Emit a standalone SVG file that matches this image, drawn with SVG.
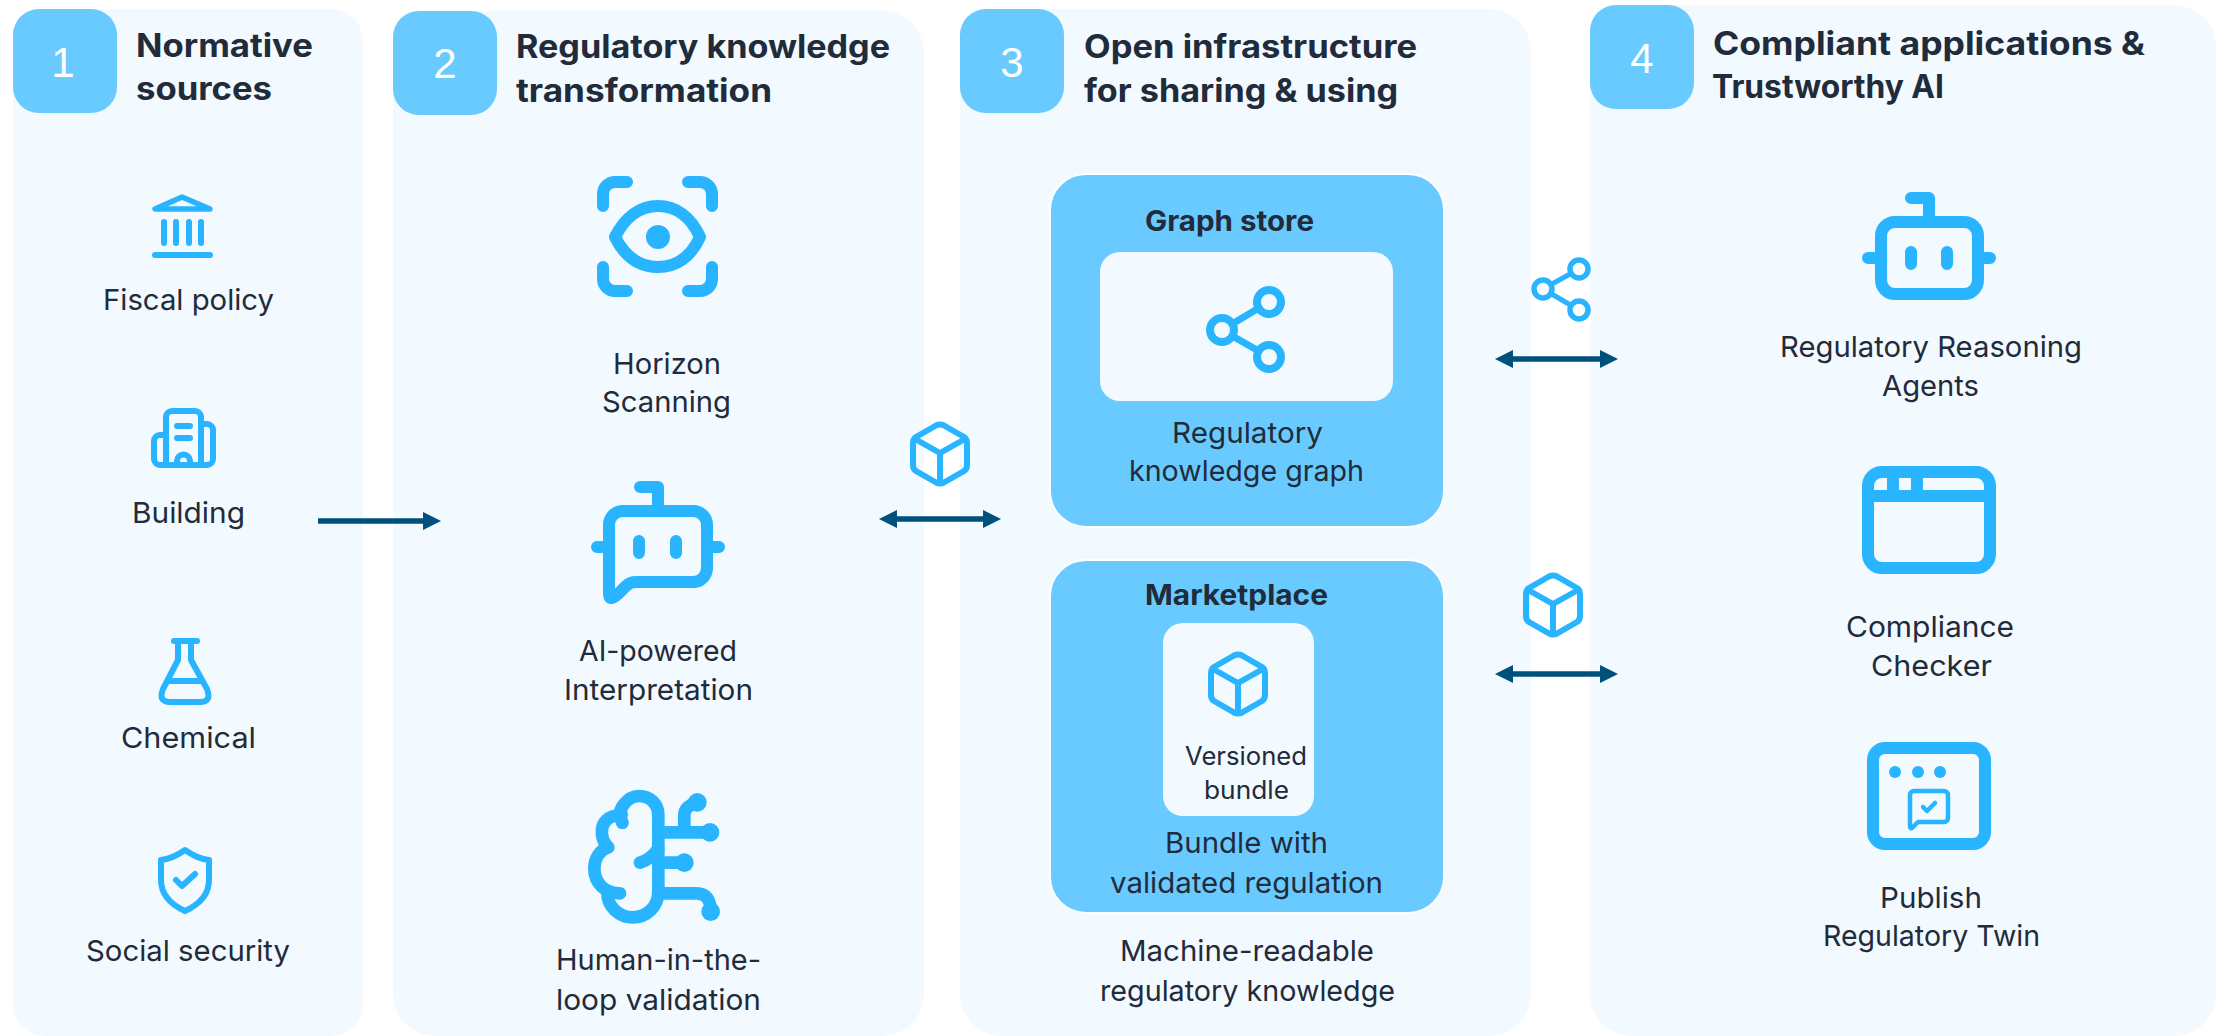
<svg xmlns="http://www.w3.org/2000/svg" width="2226" height="1036" viewBox="0 0 2226 1036">
<style>
.panel{fill:#f2f9ff}
.badge{fill:#69caff}
.num{font-family:"Liberation Sans",Arial,sans-serif;font-size:42px;fill:#fff;text-anchor:middle}
text{font-family:Inter,"Liberation Sans",sans-serif;fill:#212b3a}
.h{font-size:32px;font-weight:700}
.t{font-size:29px;font-weight:400}
.s{font-size:25px;font-weight:400}
.b{font-size:28px;font-weight:700}
.ic{fill:none;stroke:#29b4ff;stroke-width:12;stroke-linecap:round;stroke-linejoin:round}
.ic6{fill:none;stroke:#29b4ff;stroke-width:6;stroke-linecap:round;stroke-linejoin:round}
.dot{fill:#29b4ff}
.box{fill:#69caff;stroke:#fff;stroke-width:2}
.in{fill:#f2f9ff}
.arrow{stroke:#00507c;stroke-width:5.5;fill:none}
</style>
<defs>
<marker id="ah" markerUnits="userSpaceOnUse" markerWidth="18" markerHeight="18" refX="0" refY="9" orient="auto-start-reverse"><path d="M0 0L18 9L0 18Z" fill="#00507c"/></marker>
<g id="cube"><path class="ic6" d="M-4-28.5Q0-30.5 4-28.5L24-17Q27-15 27-11V11Q27 15 24 17L4 28.5Q0 30.5-4 28.5L-24 17Q-27 15-27 11V-11Q-27-15-24-17Z M-25-15L0-1L25-15 M0-1V29"/></g>
</defs>

<g id="panel-1">
<rect class="panel" x="13" y="9" width="350" height="1027" rx="32"/>
<rect class="badge" x="13" y="9" width="104" height="104" rx="26"/>
<text class="num" x="63" y="77">1</text>
<text class="h" x="136" y="57" textLength="177" lengthAdjust="spacingAndGlyphs">Normative</text>
<text class="h" x="136" y="100" textLength="136" lengthAdjust="spacingAndGlyphs">sources</text>
</g>
<g id="node-fiscal">
<path class="ic6" d="M182 197L155 209H210Z" style="stroke-width:5.5"/>
<path class="ic6" d="M164 222V243M176 222V243M189 222V243M201 222V243M155 255H210"/>
<text class="t" x="103" y="310" textLength="171" lengthAdjust="spacingAndGlyphs">Fiscal policy</text>
</g>
<g id="node-building">
<path class="ic6" d="M166 465V417a6 6 0 0 1 6-6H195a6 6 0 0 1 6 6V465M166 435H160a6 6 0 0 0-6 6V459a6 6 0 0 0 6 6H207a6 6 0 0 0 6-6V430a6 6 0 0 0-6-6H201M177 426H190M177 438H190M177 465V461a6.500 6.500 0 0 1 13 0V465"/>
<text class="t" x="132" y="523" textLength="113" lengthAdjust="spacingAndGlyphs">Building</text>
</g>
<g id="node-chemical">
<path class="ic6" d="M174 641H197M178 641V660L163 689Q158 702 170 702H200Q212 702 207 689L191 660V641M168 681H202"/>
<text class="t" x="121" y="748" textLength="135" lengthAdjust="spacingAndGlyphs">Chemical</text>
</g>
<g id="node-social">
<path class="ic6" d="M185 850Q172 859 161 860V880Q161 900 185 911Q209 900 209 880V860Q198 859 185 850Z M176 880L182 886L195 874"/>
<text class="t" x="86" y="961" textLength="204" lengthAdjust="spacingAndGlyphs">Social security</text>
</g>

<g id="panel-2">
<rect class="panel" x="393" y="11" width="531" height="1025" rx="42"/>
<rect class="badge" x="393" y="11" width="104" height="104" rx="26"/>
<text class="num" x="445" y="78">2</text>
<text class="h" x="516" y="58" textLength="374" lengthAdjust="spacingAndGlyphs">Regulatory knowledge</text>
<text class="h" x="516" y="102" textLength="256" lengthAdjust="spacingAndGlyphs">transformation</text>
</g>
<g id="node-horizon">
<path class="ic" d="M603 206V194a12 12 0 0 1 12-12H627M688 182H700a12 12 0 0 1 12 12V206M603 267V279a12 12 0 0 0 12 12H627M688 291H700a12 12 0 0 0 12-12V267"/>
<path class="ic" d="M615 237C625 217 640 206 658 206C676 206 691 217 700 237C691 257 676 267 658 267C640 267 625 257 615 237Z"/>
<circle class="dot" cx="658" cy="237" r="12"/>
<text class="t" x="613" y="374" textLength="108" lengthAdjust="spacingAndGlyphs">Horizon</text>
<text class="t" x="602" y="412" textLength="129" lengthAdjust="spacingAndGlyphs">Scanning</text>
</g>
<g id="node-ai">
<path class="ic" d="M640 487H658V505M597 547H603M713 547H719M639 541V553M676 541V553"/>
<path class="ic" d="M609 525a14 14 0 0 1 14-14H693a14 14 0 0 1 14 14V568a14 14 0 0 1-14 14H636Q630 582 626 586L618 594Q609 602 609 594Z"/>
<text class="t" x="579" y="661" textLength="158" lengthAdjust="spacingAndGlyphs">AI-powered</text>
<text class="t" x="564" y="700" textLength="189" lengthAdjust="spacingAndGlyphs">Interpretation</text>
</g>
<g id="node-human">
<g transform="translate(560 760) scale(.3333)">
<path class="ic" style="stroke-width:38" d="M187 188Q172 160 190 135Q210 108 237 108C270 108 295 132 295 165V395C295 440 260 472 218 472C178 472 142 440 142 400"/>
<path class="ic" style="stroke-width:38" d="M180 400C135 400 103 370 103 325C103 295 120 270 145 262C122 240 118 200 140 180Q155 165 185 165"/>
<path class="ic" style="stroke-width:38" d="M240 308Q275 298 295 265M295 217H450M373 217V165Q373 140 412 127M295 308H373M295 400H410Q452 400 452 455"/>
<circle class="dot" cx="187" cy="188" r="19"/><circle class="dot" cx="450" cy="217" r="28"/><circle class="dot" cx="412" cy="127" r="28"/><circle class="dot" cx="373" cy="308" r="28"/><circle class="dot" cx="452" cy="455" r="28"/>
</g>
<text class="t" x="556" y="970" textLength="205" lengthAdjust="spacingAndGlyphs">Human-in-the-</text>
<text class="t" x="556" y="1010" textLength="205" lengthAdjust="spacingAndGlyphs">loop validation</text>
</g>

<g id="panel-3">
<rect class="panel" x="960" y="9" width="571" height="1027" rx="42"/>
<rect class="badge" x="960" y="9" width="104" height="104" rx="26"/>
<text class="num" x="1012" y="77">3</text>
<text class="h" x="1084" y="58" textLength="333" lengthAdjust="spacingAndGlyphs">Open infrastructure</text>
<text class="h" x="1084" y="102" textLength="314" lengthAdjust="spacingAndGlyphs">for sharing &amp; using</text>
</g>
<g id="node-graph-store">
<rect class="box" x="1050" y="174" width="394" height="353" rx="36"/>
<text class="b" x="1145" y="231" textLength="169" lengthAdjust="spacingAndGlyphs">Graph store</text>
<rect class="in" x="1100" y="252" width="293" height="149" rx="20"/>
<path fill="none" stroke="#29b4ff" stroke-width="7" d="M1222 330L1269 302M1222 330L1269 357"/>
<circle cx="1269" cy="302" r="12" fill="#f2f9ff" stroke="#29b4ff" stroke-width="8"/>
<circle cx="1222" cy="330" r="12" fill="#f2f9ff" stroke="#29b4ff" stroke-width="8"/>
<circle cx="1269" cy="357" r="12" fill="#f2f9ff" stroke="#29b4ff" stroke-width="8"/>
<text class="t" x="1172" y="443" textLength="151" lengthAdjust="spacingAndGlyphs">Regulatory</text>
<text class="t" x="1129" y="481" textLength="235" lengthAdjust="spacingAndGlyphs">knowledge graph</text>
</g>
<g id="node-marketplace">
<rect class="box" x="1050" y="560" width="394" height="353" rx="36"/>
<text class="b" x="1145" y="605" textLength="183" lengthAdjust="spacingAndGlyphs">Marketplace</text>
<rect class="in" x="1163" y="623" width="151" height="193" rx="20"/>
<use href="#cube" x="1238" y="684"/>
<text class="s" x="1185" y="765" textLength="122" lengthAdjust="spacingAndGlyphs">Versioned</text>
<text class="s" x="1204" y="799" textLength="85" lengthAdjust="spacingAndGlyphs">bundle</text>
<text class="t" x="1165" y="853" textLength="163" lengthAdjust="spacingAndGlyphs">Bundle with</text>
<text class="t" x="1110" y="893" textLength="273" lengthAdjust="spacingAndGlyphs">validated regulation</text>
</g>
<g id="node-machine">
<text class="t" x="1120" y="961" textLength="254" lengthAdjust="spacingAndGlyphs">Machine-readable</text>
<text class="t" x="1100" y="1001" textLength="295" lengthAdjust="spacingAndGlyphs">regulatory knowledge</text>
</g>

<g id="panel-4">
<rect class="panel" x="1590" y="5" width="626" height="1031" rx="42"/>
<rect class="badge" x="1590" y="5" width="104" height="104" rx="26"/>
<text class="num" x="1642" y="73">4</text>
<text class="h" x="1713" y="55" textLength="432" lengthAdjust="spacingAndGlyphs">Compliant applications &amp;</text>
<text class="h" x="1712" y="98" textLength="232" lengthAdjust="spacingAndGlyphs">Trustworthy AI</text>
</g>
<g id="node-agents">
<path class="ic" d="M1911 198H1929V216M1868 258H1875M1984 258H1990M1911 252V264M1947 252V264"/>
<rect class="ic" x="1881" y="222" width="97" height="72" rx="14"/>
<text class="t" x="1780" y="357" textLength="302" lengthAdjust="spacingAndGlyphs">Regulatory Reasoning</text>
<text class="t" x="1882" y="396" textLength="97" lengthAdjust="spacingAndGlyphs">Agents</text>
</g>
<g id="node-checker">
<rect class="ic" x="1868" y="472" width="122" height="96" rx="14"/>
<path class="ic" style="stroke-linecap:butt" d="M1868 496H1990M1893 472V496M1917 472V496"/>
<text class="t" x="1846" y="637" textLength="168" lengthAdjust="spacingAndGlyphs">Compliance</text>
<text class="t" x="1871" y="676" textLength="121" lengthAdjust="spacingAndGlyphs">Checker</text>
</g>
<g id="node-publish">
<rect class="ic" x="1873" y="748" width="112" height="96" rx="12"/>
<circle class="dot" cx="1895" cy="772" r="6"/><circle class="dot" cx="1918" cy="772" r="6"/><circle class="dot" cx="1940" cy="772" r="6"/>
<path class="ic" style="stroke-width:4.500" d="M1910 795a4 4 0 0 1 4-4H1944a4 4 0 0 1 4 4V818a4 4 0 0 1-4 4H1918L1912 828Q1910 829 1910 826Z"/>
<path class="ic" style="stroke-width:4.500" d="M1923 807L1927 811L1935 803"/>
<text class="t" x="1880" y="908" textLength="102" lengthAdjust="spacingAndGlyphs">Publish</text>
<text class="t" x="1823" y="946" textLength="217" lengthAdjust="spacingAndGlyphs">Regulatory Twin</text>
</g>

<g id="connectors">
<path class="arrow" d="M318 521H423" marker-end="url(#ah)"/>
<path class="arrow" d="M897 519H983" marker-start="url(#ah)" marker-end="url(#ah)"/>
<path class="arrow" d="M1513 359H1600" marker-start="url(#ah)" marker-end="url(#ah)"/>
<path class="arrow" d="M1513 674H1600" marker-start="url(#ah)" marker-end="url(#ah)"/>
</g>
<g id="connector-icons">
<use href="#cube" x="940" y="454"/>
<use href="#cube" x="1553" y="605"/>
<path fill="none" stroke="#29b4ff" stroke-width="5" d="M1543 289L1579 269M1543 289L1579 310"/>
<circle cx="1579" cy="269" r="9" fill="#fff" stroke="#29b4ff" stroke-width="5.500"/>
<circle cx="1543" cy="289" r="9" fill="#f8fcff" stroke="#29b4ff" stroke-width="5.500"/>
<circle cx="1579" cy="310" r="9" fill="#fff" stroke="#29b4ff" stroke-width="5.500"/>
</g>
</svg>
